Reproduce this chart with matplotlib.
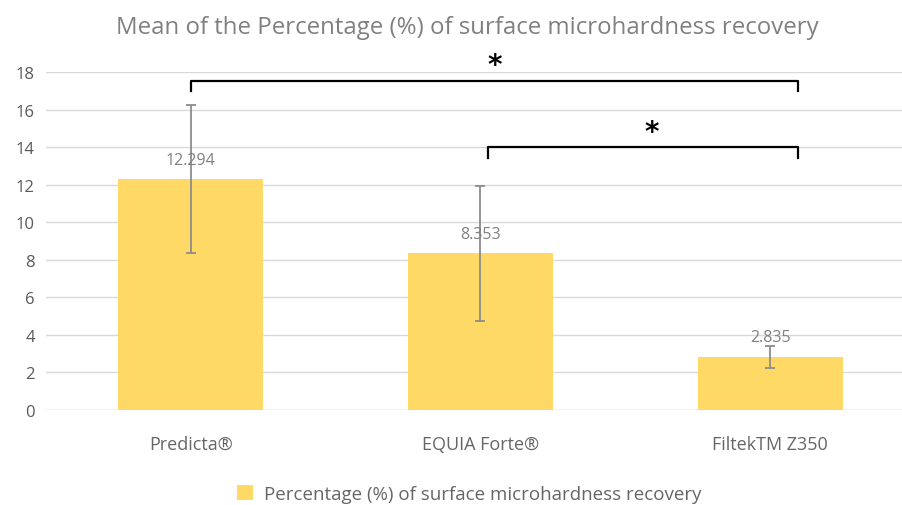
import matplotlib as mpl
mpl.use('Agg')
import matplotlib.pyplot as plt
import numpy

categories = ['Predicta®', 'EQUIA Forte®', 'FiltekTM Z350']
means = [12.294, 8.353, 2.835]
errors = [3.95, 3.6, 0.6]
value_labels = ['12.294', '8.353', '2.835']
series_name = 'Percentage (%) of surface microhardness recovery'
title = 'Mean of the Percentage (%) of surface microhardness recovery'
yticks = [0, 2, 4, 6, 8, 10, 12, 14, 16, 18]
# significance brackets: (start x, end x, bar y, leg bottom y, star x, star y)
brackets = [(0.0, 2.097, 17.55, 17.0, 1.05, 18.4),
			(1.026, 2.097, 14.02, 13.43, 1.59, 14.8)]

plt.rcParams['font.family'] = ['Open Sans', 'DejaVu Sans']
grey = '#808080'
text_grey = '#595959'

fig = plt.figure(figsize=(9.03, 5.06), dpi=100)
ax = fig.add_axes([46/903, 95/506, 869/903, 337.7/506])

x = numpy.arange(len(categories))
ax.bar(x, means, width=0.5, color='#FFD966', zorder=2, label=series_name)
ax.errorbar(x, means, yerr=errors, fmt='none', ecolor='#8c8c8c', elinewidth=1.3,
			capsize=3.5, capthick=1.3, zorder=3)
for xi, m, lab in zip(x, means, value_labels):
	ax.annotate(lab, (xi, m), xytext=(0, 14), textcoords='offset points',
				ha='center', va='center', fontsize=11.5, color=grey, zorder=4)

for x0, x1, yb, yl, sx, sy in brackets:
	ax.plot([x0, x0, x1, x1], [yl, yb, yb, yl], color='black', lw=1.6,
			clip_on=False, zorder=5, solid_joinstyle='round')
	ax.text(sx, sy, '*', ha='center', va='center', fontsize=20, fontweight='bold',
			color='black', family='DejaVu Sans')

ax.set_xlim(-0.5, 2.5)
ax.set_ylim(0, 18)
ax.set_yticks(yticks)
ax.set_xticks(x)
ax.set_xticklabels(categories)
ax.tick_params(axis='both', length=0, labelsize=12, labelcolor=text_grey, pad=8)
ax.tick_params(axis='x', pad=18, labelsize=13, labelcolor='#666666')
ax.yaxis.grid(True, color='#d9d9d9', lw=1)
ax.set_axisbelow(True)
for s in ax.spines.values():
	s.set_visible(False)
ax.axhline(0, color='#d9d9d9', lw=1, zorder=1)

fig.text(0.517, 0.944, title, ha='center', va='center', fontsize=17.3, color=grey)
fig.legend(loc='center', bbox_to_anchor=(0.52, 0.022), frameon=False, fontsize=13.5,
		   labelcolor='#666666', handlelength=0.85, handleheight=0.85, handletextpad=0.6)

plt.savefig('out.png', dpi=100)
